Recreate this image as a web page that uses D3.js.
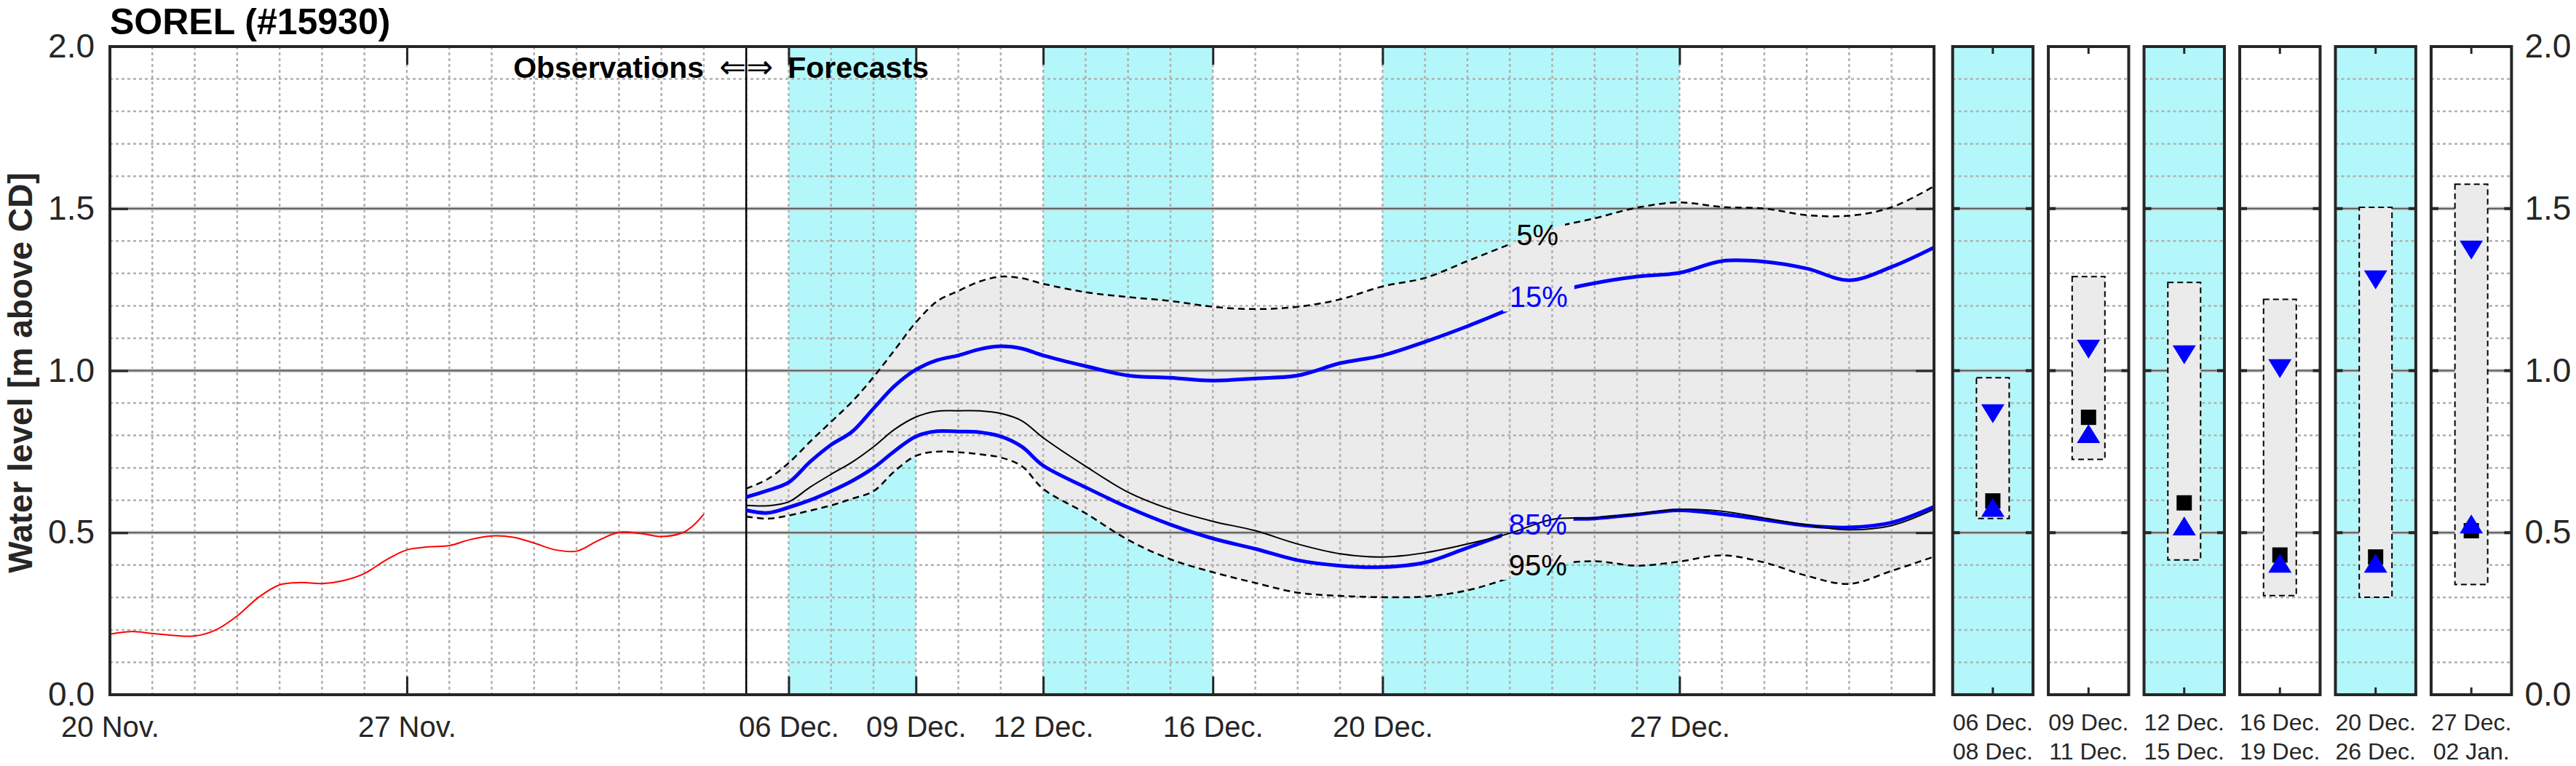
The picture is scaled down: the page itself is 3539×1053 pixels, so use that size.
<!DOCTYPE html>
<html>
<head>
<meta charset="utf-8">
<script src="https://cdn.jsdelivr.net/npm/d3@7"></script>
<style>
  body { margin: 0; background: #fff; }
  svg { display: block; font-family: "Liberation Sans", Arial, sans-serif; }
</style>
</head>
<body>
<svg id="chart" width="3539" height="1053"></svg>
<script>
const stationTitle = "SOREL (#15930)";
const yLabel = "Water level [m above CD]";
const startDate = Date.UTC(2023, 10, 20); // 20 Nov.
const endDate = Date.UTC(2024, 0, 2);     // 02 Jan.
const forecastStartDay = 15;              // 05 Dec., days after 20 Nov.
const levelTicks = [0, 0.5, 1.0, 1.5, 2.0];

// observed water level (red), days after 20 Nov.
const obsDay = [0, 0.5, 1, 1.5, 2, 2.5, 3, 3.5, 4, 4.5, 5, 5.5, 6, 6.5, 7, 7.5, 8, 8.5, 9, 9.5, 10, 10.5, 11, 11.5, 12, 12.5, 13, 13.5, 13.75, 14];
const obsLevel = [0.187, 0.195, 0.189, 0.183, 0.181, 0.200, 0.243, 0.300, 0.339, 0.346, 0.343, 0.352, 0.374, 0.415, 0.447, 0.456, 0.460, 0.479, 0.490, 0.486, 0.468, 0.447, 0.443, 0.475, 0.501, 0.498, 0.488, 0.500, 0.522, 0.557];

// forecast percentiles, days after 20 Nov.
const fcDay = [15, 15.5, 16, 16.5, 17, 17.5, 18, 18.5, 19, 19.5, 20, 20.5, 21, 21.5, 22, 23, 24, 25, 26, 27, 28, 29, 30, 31, 32, 33, 34, 35, 36, 37, 38, 39, 40, 41, 42, 43];
const q05 = [0.636, 0.665, 0.715, 0.780, 0.842, 0.905, 0.980, 1.064, 1.149, 1.214, 1.246, 1.275, 1.290, 1.285, 1.268, 1.242, 1.227, 1.215, 1.197, 1.190, 1.197, 1.220, 1.260, 1.286, 1.338, 1.390, 1.440, 1.470, 1.503, 1.519, 1.505, 1.500, 1.480, 1.478, 1.504, 1.569];
const q15 = [0.610, 0.630, 0.655, 0.718, 0.771, 0.812, 0.883, 0.953, 1.003, 1.032, 1.047, 1.066, 1.075, 1.068, 1.047, 1.014, 0.985, 0.978, 0.969, 0.976, 0.985, 1.023, 1.047, 1.089, 1.137, 1.190, 1.240, 1.270, 1.290, 1.302, 1.338, 1.336, 1.315, 1.279, 1.320, 1.380];
const q50 = [0.584, 0.583, 0.595, 0.640, 0.680, 0.718, 0.765, 0.819, 0.857, 0.875, 0.876, 0.876, 0.868, 0.845, 0.793, 0.705, 0.625, 0.572, 0.535, 0.506, 0.465, 0.435, 0.425, 0.438, 0.465, 0.498, 0.541, 0.546, 0.558, 0.572, 0.566, 0.545, 0.524, 0.509, 0.522, 0.572];
const q85 = [0.569, 0.561, 0.578, 0.600, 0.628, 0.660, 0.700, 0.752, 0.797, 0.813, 0.812, 0.810, 0.797, 0.765, 0.707, 0.640, 0.578, 0.525, 0.482, 0.450, 0.415, 0.398, 0.394, 0.408, 0.453, 0.500, 0.538, 0.544, 0.556, 0.569, 0.557, 0.540, 0.522, 0.516, 0.531, 0.580];
const q95 = [0.550, 0.543, 0.553, 0.568, 0.584, 0.605, 0.628, 0.690, 0.737, 0.750, 0.748, 0.742, 0.732, 0.705, 0.635, 0.560, 0.478, 0.418, 0.378, 0.345, 0.315, 0.305, 0.301, 0.303, 0.322, 0.360, 0.400, 0.412, 0.398, 0.411, 0.430, 0.408, 0.367, 0.342, 0.382, 0.426];

const pctText = ["5%", "15%", "85%", "95%"];
const pctDay = [33.65, 33.68, 33.66, 33.66];
const pctLevel = [1.419, 1.228, 0.527, 0.400];

// summary periods (right-hand panels)
const periodStart = ["2023-12-06", "2023-12-09", "2023-12-12", "2023-12-16", "2023-12-20", "2023-12-27"];
const periodEnd = ["2023-12-08", "2023-12-11", "2023-12-15", "2023-12-19", "2023-12-26", "2024-01-02"];
const periodShaded = [true, false, true, false, true, false];
const boxHigh = [0.978, 1.290, 1.272, 1.220, 1.504, 1.575];
const boxLow = [0.544, 0.726, 0.416, 0.306, 0.301, 0.340];
const downMark = [0.867, 1.066, 1.049, 1.006, 1.280, 1.372];
const squareMark = [0.598, 0.856, 0.592, 0.431, 0.425, 0.506];
const upMark = [0.578, 0.806, 0.521, 0.406, 0.406, 0.527];

const CYAN = "#b3f7fa";
const FILL = "#ebebeb";
const INK = "#262626";
const GRID = "#b0b0b0";

const plot = { left: 151, right: 2657, top: 64, bottom: 955 };
const panelSpan = [2682.6, 3450.4];

const svg = d3.select("#chart");
const defs = svg.append("defs");

const dayToDate = (d) => new Date(startDate + d * 864e5);
const parseDay = d3.utcParse("%Y-%m-%d");
const fmtDate = d3.utcFormat("%d %b.");

const x = d3.scaleUtc().domain([new Date(startDate), new Date(endDate)]).range([plot.left, plot.right]);
const y = d3.scaleLinear().domain([0, 2]).range([plot.bottom, plot.top]);

const minorLevels = d3.range(1, 20).filter((i) => i % 5 !== 0).map((i) => i / 10);
const majorLevels = [0.5, 1.0, 1.5];

defs.append("clipPath").attr("id", "plotClip")
  .append("rect")
  .attr("x", plot.left).attr("y", plot.top)
  .attr("width", plot.right - plot.left).attr("height", plot.bottom - plot.top);

// layers
const main = svg.append("g");
const bandG = main.append("g");
const fillG = main.append("g").attr("clip-path", "url(#plotClip)");
const gridG = main.append("g");
const lineG = main.append("g").attr("clip-path", "url(#plotClip)");
const labelG = main.append("g");
const frameG = main.append("g");

// shaded forecast periods
periodStart.forEach((s, i) => {
  if (!periodShaded[i]) return;
  const x0 = x(parseDay(s));
  const x1 = x(d3.utcDay.offset(parseDay(periodEnd[i]), 1));
  bandG.append("rect")
    .attr("x", x0).attr("y", plot.top)
    .attr("width", x1 - x0).attr("height", plot.bottom - plot.top)
    .attr("fill", CYAN);
});

// 5-95% envelope
const fc = fcDay.map((d, i) => ({ d, q05: q05[i], q15: q15[i], q50: q50[i], q85: q85[i], q95: q95[i] }));
const curve = d3.curveCatmullRom.alpha(0.5);
fillG.append("path")
  .datum(fc)
  .attr("d", d3.area().curve(curve)
    .x((p) => x(dayToDate(p.d)))
    .y0((p) => y(p.q95))
    .y1((p) => y(p.q05)))
  .attr("fill", FILL);

// grid
function hGrid(g, x0, x1) {
  g.selectAll(null).data(minorLevels).join("line")
    .attr("x1", x0).attr("x2", x1)
    .attr("y1", (v) => y(v)).attr("y2", (v) => y(v))
    .attr("stroke", GRID).attr("stroke-width", 2.5).attr("stroke-dasharray", "4 4");
  g.selectAll(null).data(majorLevels).join("line")
    .attr("x1", x0).attr("x2", x1)
    .attr("y1", (v) => y(v)).attr("y2", (v) => y(v))
    .attr("stroke", "#cfcfcf").attr("stroke-width", 5);
  g.selectAll(null).data(majorLevels).join("line")
    .attr("x1", x0).attr("x2", x1)
    .attr("y1", (v) => y(v)).attr("y2", (v) => y(v))
    .attr("stroke", "#5a5a5a").attr("stroke-width", 2);
}

const days = x.ticks(d3.utcDay.every(1)).filter((t) => +t > startDate && +t < endDate);
gridG.selectAll(null).data(days).join("line")
  .attr("x1", (t) => x(t)).attr("x2", (t) => x(t))
  .attr("y1", plot.top).attr("y2", plot.bottom)
  .attr("stroke", GRID).attr("stroke-width", 2.5).attr("stroke-dasharray", "4 4");
hGrid(gridG, plot.left, plot.right);

// observations / forecasts divider
gridG.append("line")
  .attr("x1", x(dayToDate(forecastStartDay))).attr("x2", x(dayToDate(forecastStartDay)))
  .attr("y1", plot.top).attr("y2", plot.bottom)
  .attr("stroke", "#000").attr("stroke-width", 2.5);

// percentile labels (drawn first so the lines can be broken around them)
const pctColor = ["#000000", "#0000ff", "#0000ff", "#000000"];
const labelNodes = pctText.map((t, i) =>
  labelG.append("text")
    .attr("x", x(dayToDate(pctDay[i])))
    .attr("y", y(pctLevel[i]))
    .attr("dy", "0.36em")
    .attr("text-anchor", "middle")
    .attr("font-size", 40)
    .attr("fill", pctColor[i])
    .text(t)
);

const mask = defs.append("mask").attr("id", "labelGaps")
  .attr("maskUnits", "userSpaceOnUse")
  .attr("x", 0).attr("y", 0).attr("width", 3539).attr("height", 1053);
mask.append("rect").attr("width", 3539).attr("height", 1053).attr("fill", "#fff");
labelNodes.forEach((n) => {
  const b = n.node().getBBox();
  mask.append("rect")
    .attr("x", b.x - 9).attr("y", b.y + 2)
    .attr("width", b.width + 18).attr("height", b.height - 4)
    .attr("fill", "#000");
});

const fcLine = (key) => d3.line().curve(curve)
  .x((p) => x(dayToDate(p.d)))
  .y((p) => y(p[key]));

const maskedG = lineG.append("g").attr("mask", "url(#labelGaps)");
maskedG.append("path").datum(fc).attr("d", fcLine("q05"))
  .attr("fill", "none").attr("stroke", "#000").attr("stroke-width", 2.5).attr("stroke-dasharray", "9 6");
maskedG.append("path").datum(fc).attr("d", fcLine("q95"))
  .attr("fill", "none").attr("stroke", "#000").attr("stroke-width", 2.5).attr("stroke-dasharray", "9 6");
lineG.append("path").datum(fc).attr("d", fcLine("q50"))
  .attr("fill", "none").attr("stroke", "#000").attr("stroke-width", 2);
maskedG.append("path").datum(fc).attr("d", fcLine("q15"))
  .attr("fill", "none").attr("stroke", "#0000ff").attr("stroke-width", 5);
maskedG.append("path").datum(fc).attr("d", fcLine("q85"))
  .attr("fill", "none").attr("stroke", "#0000ff").attr("stroke-width", 5);

const obs = obsDay.map((d, i) => ({ d, v: obsLevel[i] }));
lineG.append("path").datum(obs)
  .attr("d", d3.line().curve(curve).x((p) => x(dayToDate(p.d))).y((p) => y(p.v)))
  .attr("fill", "none").attr("stroke", "#ff0000").attr("stroke-width", 2);

// frame and axes
frameG.append("rect")
  .attr("x", plot.left).attr("y", plot.top)
  .attr("width", plot.right - plot.left).attr("height", plot.bottom - plot.top)
  .attr("fill", "none").attr("stroke", INK).attr("stroke-width", 4);

const majorDates = [new Date(startDate), d3.utcDay.offset(new Date(startDate), 7)].concat(periodStart.map(parseDay));

function styleAxis(g, fontSize) {
  g.select(".domain").remove();
  g.selectAll(".tick line").attr("stroke", INK).attr("stroke-width", 3);
  g.selectAll(".tick text").attr("fill", INK).attr("font-size", fontSize)
    .attr("font-family", "'Liberation Sans', Arial, sans-serif");
}

frameG.append("g").attr("transform", `translate(0,${plot.bottom})`)
  .call(d3.axisBottom(x).tickValues(majorDates).tickFormat(fmtDate).tickSize(-25).tickPadding(30))
  .call((g) => styleAxis(g, 40));
frameG.append("g").attr("transform", `translate(0,${plot.top})`)
  .call(d3.axisTop(x).tickValues(majorDates).tickFormat("").tickSize(-25))
  .call((g) => styleAxis(g, 40));
frameG.append("g").attr("transform", `translate(${plot.left},0)`)
  .call(d3.axisLeft(y).tickValues(levelTicks).tickFormat(d3.format(".1f")).tickSize(-25).tickPadding(21))
  .call((g) => styleAxis(g, 46));
frameG.append("g").attr("transform", `translate(${plot.right},0)`)
  .call(d3.axisRight(y).tickValues(levelTicks).tickFormat("").tickSize(-25))
  .call((g) => styleAxis(g, 46));

// texts
svg.append("text")
  .attr("x", plot.left).attr("y", 47)
  .attr("font-size", 50).attr("font-weight", "bold").attr("fill", "#000")
  .text(stationTitle);

svg.append("text")
  .attr("transform", `translate(44,${(plot.top + plot.bottom) / 2 + 3}) rotate(-90)`)
  .attr("text-anchor", "middle")
  .attr("font-size", 46).attr("font-weight", "bold").attr("fill", INK)
  .text(yLabel);

const divX = x(dayToDate(forecastStartDay));
svg.append("text")
  .attr("x", divX - 58).attr("y", 107).attr("text-anchor", "end")
  .attr("font-size", 41).attr("font-weight", "bold").attr("fill", "#000")
  .text("Observations");
svg.append("text")
  .attr("x", divX).attr("y", 107).attr("text-anchor", "middle")
  .attr("font-size", 44).attr("font-family", "'DejaVu Sans', sans-serif").attr("fill", "#000")
  .text("\u21D0\u21D2");
svg.append("text")
  .attr("x", divX + 57).attr("y", 107)
  .attr("font-size", 41).attr("font-weight", "bold").attr("fill", "#000")
  .text("Forecasts");

// summary panels
const px = d3.scaleBand().domain(d3.range(periodStart.length)).range(panelSpan).paddingInner(0.16);
const boxW = 45;
const tri = 16;

periodStart.forEach((s, i) => {
  const x0 = px(i);
  const w = px.bandwidth();
  const cx = x0 + w / 2;
  const g = svg.append("g");

  g.append("rect")
    .attr("x", x0).attr("y", plot.top).attr("width", w).attr("height", plot.bottom - plot.top)
    .attr("fill", periodShaded[i] ? CYAN : "#fff");
  hGrid(g, x0, x0 + w);

  g.append("rect")
    .attr("x", cx - boxW / 2).attr("y", y(boxHigh[i]))
    .attr("width", boxW).attr("height", y(boxLow[i]) - y(boxHigh[i]))
    .attr("fill", FILL).attr("stroke", "#000").attr("stroke-width", 2).attr("stroke-dasharray", "8 5");

  g.append("path")
    .attr("d", `M${cx - tri},${y(downMark[i]) - 13}L${cx + tri},${y(downMark[i]) - 13}L${cx},${y(downMark[i]) + 13}Z`)
    .attr("fill", "#0000ff");
  g.append("rect")
    .attr("x", cx - 10.5).attr("y", y(squareMark[i]) - 10.5)
    .attr("width", 21).attr("height", 21).attr("fill", "#000");
  g.append("path")
    .attr("d", `M${cx - tri},${y(upMark[i]) + 13}L${cx + tri},${y(upMark[i]) + 13}L${cx},${y(upMark[i]) - 13}Z`)
    .attr("fill", "#0000ff");

  g.append("rect")
    .attr("x", x0).attr("y", plot.top).attr("width", w).attr("height", plot.bottom - plot.top)
    .attr("fill", "none").attr("stroke", INK).attr("stroke-width", 4);

  // ticks
  [plot.top, plot.bottom].forEach((yy, k) => {
    g.append("line").attr("x1", cx).attr("x2", cx)
      .attr("y1", yy).attr("y2", yy + (k === 0 ? 10 : -10))
      .attr("stroke", INK).attr("stroke-width", 3);
  });
  majorLevels.forEach((v) => {
    g.append("line").attr("x1", x0).attr("x2", x0 + 10).attr("y1", y(v)).attr("y2", y(v))
      .attr("stroke", INK).attr("stroke-width", 4);
    g.append("line").attr("x1", x0 + w - 10).attr("x2", x0 + w).attr("y1", y(v)).attr("y2", y(v))
      .attr("stroke", INK).attr("stroke-width", 4);
  });

  g.append("text").attr("x", cx).attr("y", 1004).attr("text-anchor", "middle")
    .attr("font-size", 32).attr("fill", INK).text(fmtDate(parseDay(s)));
  g.append("text").attr("x", cx).attr("y", 1044).attr("text-anchor", "middle")
    .attr("font-size", 32).attr("fill", INK).text(fmtDate(parseDay(periodEnd[i])));
});

svg.append("g").attr("transform", `translate(${panelSpan[1]},0)`)
  .call(d3.axisRight(y).tickValues(levelTicks).tickFormat(d3.format(".1f")).tickSize(0).tickPadding(18))
  .call((g) => styleAxis(g, 46));
</script>
</body>
</html>
